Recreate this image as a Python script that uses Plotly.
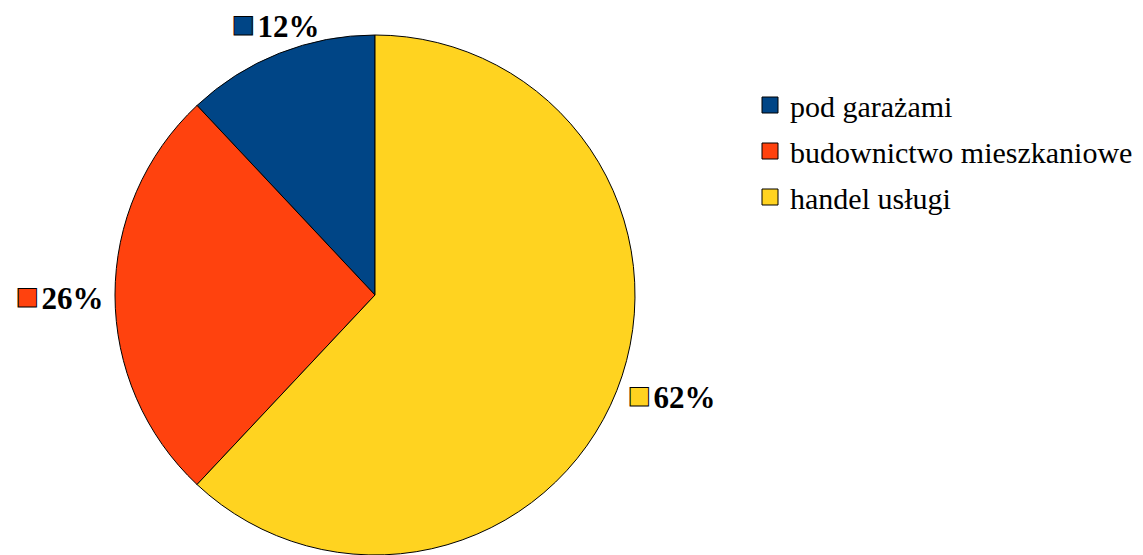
import math
import plotly.graph_objects as go

categories = ["pod garażami", "budownictwo mieszkaniowe", "handel usługi"]
values = [12, 26, 62]
colors = ["#004586", "#ff420e", "#ffd320"]

W, H = 1143, 555
cx, cy, r = 375, 295, 260
FONT = "Liberation Serif"

total = sum(values)
start_share = values[0] / total

fig = go.Figure()
fig.add_trace(go.Pie(
    labels=categories,
    values=values,
    sort=False,
    direction="counterclockwise",
    rotation=-360 * start_share,
    marker=dict(colors=colors, line=dict(color="#000000", width=1)),
    textinfo="none",
    showlegend=False,
    domain=dict(x=[(cx - r) / W, (cx + r) / W], y=[(H - cy - r) / H, (H - cy + r) / H]),
    hoverinfo="label+percent",
))

# legend entries as square markers
for i, (name, col) in enumerate(zip(categories, colors)):
    fig.add_trace(go.Scatter(
        x=[None], y=[None], mode="markers", name=name,
        legendgroup=f"g{i}",
        marker=dict(symbol="square", size=20, color=col, line=dict(color="#000000", width=1)),
        showlegend=True, hoverinfo="skip",
    ))

# outside percentage labels
annotations = []
cum = 0
for v, col in zip(values, colors):
    mid = (cum + v / 2) / total * 2 * math.pi
    cum += v
    ux = -math.sin(mid)
    uy = math.cos(mid)
    R = r + 10
    px = cx + ux * R
    py = cy - uy * R
    xanchor = "left" if ux > 0.5 else ("right" if ux < -0.5 else "center")
    yanchor = "bottom" if uy > 0.5 else ("top" if uy < -0.5 else "middle")
    pct = round(v / total * 100)
    annotations.append(dict(
        x=px / W, y=1 - py / H, xref="paper", yref="paper",
        xanchor=xanchor, yanchor=yanchor, showarrow=False,
        yshift=-3 if yanchor == "bottom" else (-1 if yanchor == "middle" else 0),
        text=(f"<span style='color:{col};stroke:#000000;stroke-width:1px;font-size:38px'>■</span>"
              f"<span style='font-size:10px'> </span><b>{pct}%</b>"),
        font=dict(family=FONT, size=31, color="#000000"),
    ))

fig.update_layout(
    width=W, height=H,
    margin=dict(l=0, r=0, t=0, b=0, autoexpand=False),
    paper_bgcolor="white",
    plot_bgcolor="white",
    font=dict(family=FONT, color="#000000"),
    xaxis=dict(visible=False, domain=[0.99, 1.0]),
    yaxis=dict(visible=False, domain=[0.99, 1.0]),
    showlegend=True,
    legend=dict(
        x=750 / W, y=1 - 79 / H, xanchor="left", yanchor="top",
        font=dict(family=FONT, size=30, color="#000000"),
        bgcolor="rgba(0,0,0,0)",
        tracegroupgap=4,
        itemsizing="trace",
    ),
    annotations=annotations,
)

fig.write_html("out.html", config={"displayModeBar": False},
               post_script="document.body.style.margin='0';")
